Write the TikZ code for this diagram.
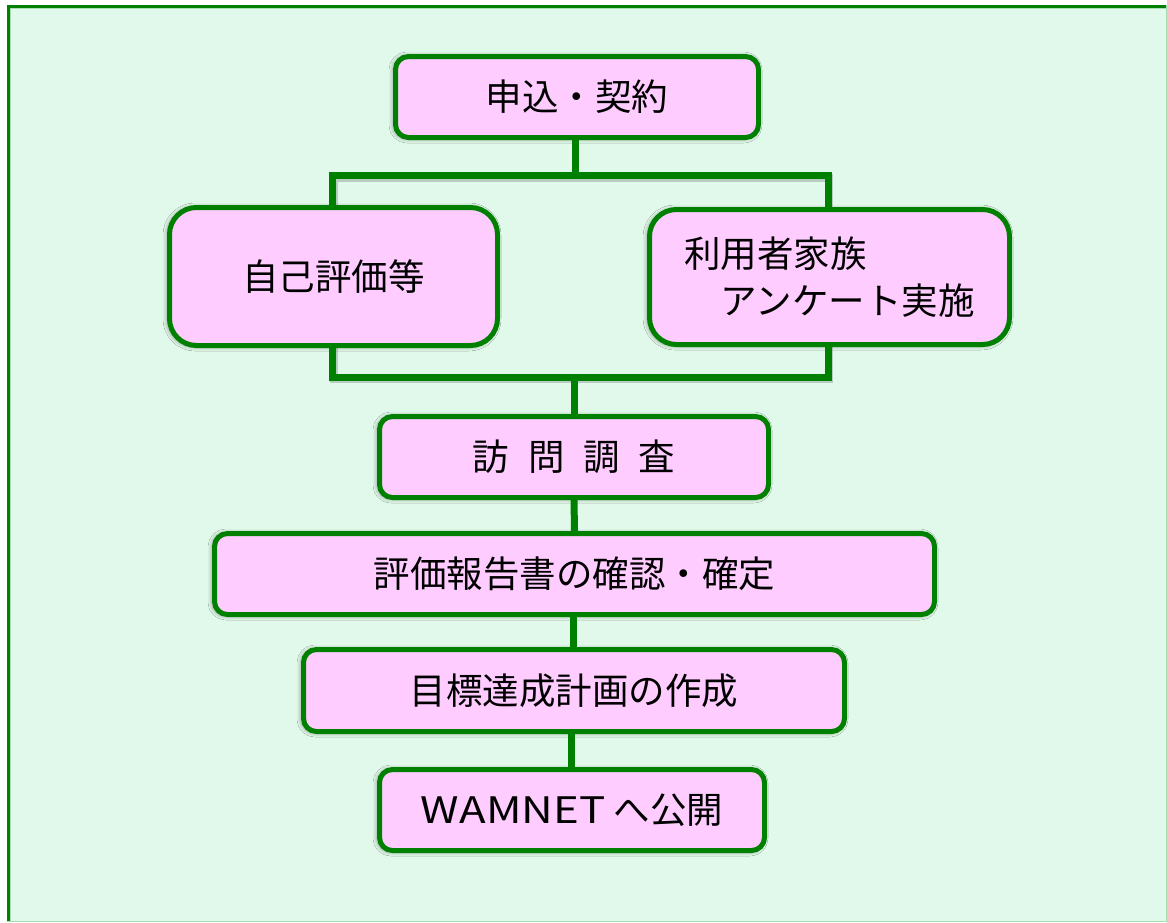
\documentclass[tikz,border=0pt]{standalone}
\usepackage{fontspec}
\setmainfont{Noto Sans CJK JP}
\newfontfamily\widelatin{Noto Sans CJK JP}[FakeStretch=1.2]
\usetikzlibrary{shadows.blur}
\definecolor{bggreen}{HTML}{E1F9EA}
\definecolor{boxpink}{HTML}{FFCCFF}
\definecolor{linegreen}{HTML}{008000}
\definecolor{framelight}{HTML}{A8DDB2}
\begin{document}
\begin{tikzpicture}[x=1pt,y=-1pt,
  box/.style={draw=linegreen, line width=5pt, fill=boxpink, rounded corners=13pt,
    inner sep=0pt, align=center, font=\fontsize{36.5}{47}\selectfont,
    blur shadow={shadow xshift=-1.5pt, shadow yshift=-0.5pt, shadow blur radius=5pt, shadow opacity=55}},
  bigbox/.style={box, rounded corners=27pt},
  conn/.style={draw=linegreen, line width=7pt},
  connshadow/.style={draw=black, opacity=0.18, line width=8pt}]
\useasboundingbox (0,0) rectangle (1167,922);
% background and frame
\fill[white] (0,0) rectangle (1167,922);
\fill[bggreen] (7,5) rectangle (1167,922);
\draw[linegreen, line width=3pt] (8.5,922) -- (8.5,6.5) -- (1167,6.5);
\draw[framelight, line width=1pt] (10.5,922) -- (10.5,8.5) -- (1167,8.5);
\draw[framelight, line width=1.5pt] (1166.25,5) -- (1166.25,921.25) -- (7,921.25);
% junction points
\coordinate (jt) at (575.5,175.5);
\coordinate (jb) at (574,377);
% connector shadows
\draw[connshadow] (333.5,266) |- (576.5,177.5) -| (829,266);
\draw[connshadow] (333.5,300) |- (575,379) -| (829,300);
% boxes
\node[box, minimum width=363pt, minimum height=81pt] (b1) at (577,97) {申込・契約};
\node[bigbox, minimum width=328pt, minimum height=138pt] (b2) at (333.5,276.5) {自己評価等};
\node[bigbox, minimum width=360pt, minimum height=135pt, align=left] (b3) at (829.5,277) {利用者家族\\　アンケート実施};
\node[box, minimum width=389pt, minimum height=81pt] (b4) at (574,457) {訪\hspace{0.52em}問\hspace{0.52em}調\hspace{0.52em}査};
\node[box, minimum width=720pt, minimum height=81pt] (b5) at (574.5,574) {評価報告書の確認・確定};
\node[box, minimum width=541pt, minimum height=82pt] (b6) at (574,690.5) {目標達成計画の作成};
\node[box, minimum width=385pt, minimum height=81pt] (b7) at (572,810) {{\widelatin WAMNET} へ公開};
% connectors
\draw[conn] (b1.south -| jt) -- (jt);
\draw[conn] (b2.north -| 332.5,0) |- (jt) -| (828,0 |- b3.north);
\draw[conn] (b2.south -| 332.5,0) |- (jb) -| (828,0 |- b3.south);
\draw[conn] (jb) -- (b4.north);
\draw[conn] (b4.south) -- (b5.north);
\draw[conn] (b6.north -| 573.5,0) -- (b5.south -| 573.5,0);
\draw[conn] (b7.north -| 571,0) -- (b6.south -| 571,0);
\end{tikzpicture}
\end{document}
